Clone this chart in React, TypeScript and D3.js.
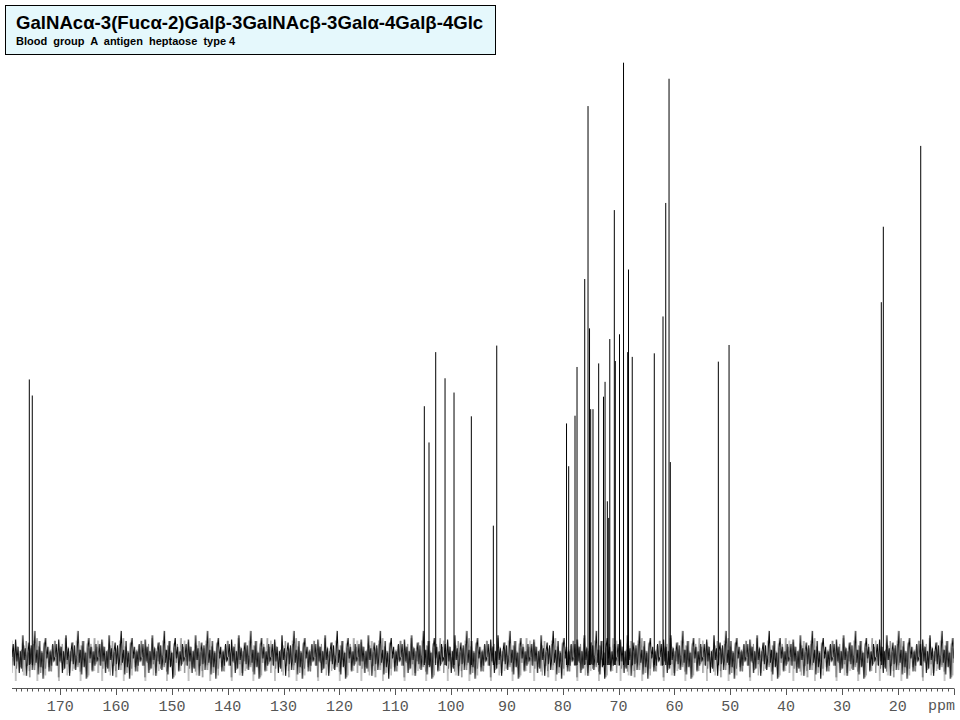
import React from "react";
import * as d3 from "d3";

// Peak chemical shifts (ppm) and relative heights (tallest = 100)
const peakPpm = [
  175.55, 175.02, 104.8, 103.96, 102.76, 101.09, 99.48, 96.38, 92.44, 91.83,
  79.33, 78.94, 77.81, 77.45, 76.07, 75.48, 75.21, 75.0, 74.59, 73.57,
  72.71, 72.43, 72.02, 71.77, 71.58, 70.77, 70.59, 69.84, 69.12, 68.37,
  68.23, 67.56, 63.61, 62.05, 61.56, 60.97, 60.74, 52.14, 50.22, 22.95,
  22.59, 15.89,
];
const peakIntensity = [
  46.7, 44.0, 42.2, 36.1, 51.3, 46.9, 44.5, 40.5, 22.1, 52.4,
  39.3, 32.1, 40.6, 48.8, 63.6, 92.7, 55.3, 41.7, 41.7, 49.4,
  43.8, 46.3, 26.2, 23.4, 53.5, 75.2, 49.8, 54.3, 100, 51.3,
  65.2, 50.5, 51.1, 57.3, 76.4, 97.3, 32.8, 49.7, 52.5, 59.7,
  72.4, 86.0,
];
const tickLabels = [170, 160, 150, 140, 130, 120, 110, 100, 90, 80, 70, 60, 50, 40, 30, 20];

// decorative baseline-noise texture tiles (vertical offsets in px)
const noiseTile = [
  0, 9, -6, 12, -3, 7, -11, 4, -8, 15, -2, 6, -13, 3, 10, -5, 8, -9, 2, 18,
  -4, 5, -12, 11, -7, 3, -15, 6, 13, -1, 7, -10, 4, -6, 9, -3, 0,
];
const noiseTile2 = [
  0, -7, 5, -10, 8, -2, 11, -6, 3, -14, 6, -4, 9, -9, 2, 13, -5, 7, -11, 4,
  -3, 10, -8, 1, 0,
];
const noiseTile3 = [
  0, 4, -9, 6, -3, 12, -5, 2, -16, 8, -1, 5, -7, 10, -12, 3, 0,
];

const title = "GalNAcα-3(Fucα-2)Galβ-3GalNAcβ-3Galα-4Galβ-4Glc";
const subtitle = "Blood  group  A  antigen  heptaose  type 4";

export default function App() {
  const W = 960;
  const H = 720;
  const x = d3.scaleLinear().domain([178.65, 9.93]).range([12, 954]);
  const y = d3.scaleLinear().domain([0, 100]).range([657, 62.7]);
  const axisY = 688.5;
  const minorTicks = d3.range(178, 9, -1);
  const step = 1.2;
  const mk = (arr: number[], s: number) =>
    d3.line()(arr.map((v, i) => [i * s, 30 - v * 1.45] as [number, number])) || "";
  const tileW = (noiseTile.length - 1) * step;
  const tileW2 = (noiseTile2.length - 1) * step;
  const step3 = 1.35;
  const tileW3 = (noiseTile3.length - 1) * step3;

  return (
    <svg
      width={W}
      height={H}
      viewBox={`0 0 ${W} ${H}`}
      style={{ position: "absolute", left: 0, top: 0, background: "#fff" }}
    >
      <defs>
        <pattern id="noiseA" patternUnits="userSpaceOnUse" x={12} y={627} width={tileW} height={60}>
          <path d={mk(noiseTile, step)} fill="none" stroke="#000" strokeWidth={1} />
        </pattern>
        <pattern id="noiseB" patternUnits="userSpaceOnUse" x={19} y={627} width={tileW2} height={60}>
          <path d={mk(noiseTile2, step)} fill="none" stroke="#222" strokeWidth={0.8} />
        </pattern>
        <pattern id="noiseC" patternUnits="userSpaceOnUse" x={5} y={628} width={tileW3} height={60}>
          <path d={mk(noiseTile3, step3)} fill="none" stroke="#333" strokeWidth={0.7} />
        </pattern>
      </defs>

      {/* baseline noise band */}
      <rect x={12} y={630} width={942} height={51} fill="url(#noiseA)" />
      <rect x={12} y={630} width={942} height={51} fill="url(#noiseB)" opacity={0.6} />
      <rect x={12} y={630} width={942} height={51} fill="url(#noiseC)" opacity={0.5} />

      {/* peaks */}
      <g stroke="#000" strokeWidth={1}>
        {peakPpm.map((p, i) => (
          <line key={i} x1={x(p)} x2={x(p)} y1={y(0) + 8} y2={y(peakIntensity[i])} />
        ))}
      </g>

      {/* axis */}
      <g stroke="#555" strokeWidth={1}>
        <line x1={12} x2={954} y1={axisY} y2={axisY} />
        {minorTicks.map((t) => (
          <line
            key={t}
            x1={Math.round(x(t)) + 0.5}
            x2={Math.round(x(t)) + 0.5}
            y1={axisY}
            y2={t % 10 === 0 ? axisY + 6.5 : axisY + 3}
          />
        ))}
      </g>
      <g fill="#555" fontFamily="'Liberation Mono', 'DejaVu Sans Mono', monospace" fontSize={15}>
        {tickLabels.map((t) => (
          <text key={t} x={x(t)} y={711} textAnchor="middle">
            {t}
          </text>
        ))}
        <text x={955} y={710} textAnchor="end">ppm</text>
      </g>

      {/* title box */}
      <rect x={5.5} y={5.5} width={490} height={49} fill="#e5f8fc" stroke="#000" strokeWidth={1} />
      <text
        x={16}
        y={29}
        fontFamily="'Liberation Sans', Arial, sans-serif"
        fontWeight="bold"
        fontSize={18.6}
        fill="#000"
      >
        {title}
      </text>
      <text
        x={16}
        y={45}
        fontFamily="'Liberation Sans', Arial, sans-serif"
        fontWeight="bold"
        fontSize={11}
        fill="#000"
        style={{ whiteSpace: "pre" }}
      >
        {subtitle}
      </text>
    </svg>
  );
}
